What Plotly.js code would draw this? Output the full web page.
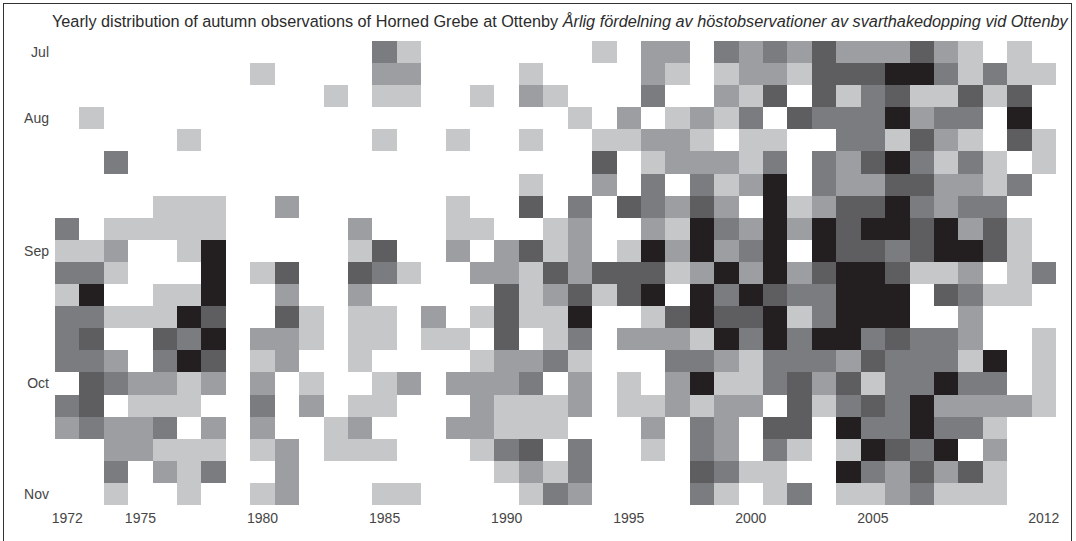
<!DOCTYPE html>
<html><head><meta charset="utf-8">
<script src="https://cdn.plot.ly/plotly-3.0.1.min.js"></script>
<style>
html,body{margin:0;padding:0;background:#fff;overflow:hidden}
#frame{position:absolute;left:3px;top:3px;width:1069px;height:540px;border:1px solid #333;box-sizing:border-box;border-bottom:none}
#chart{position:absolute;left:0;top:0;width:1076px;height:541px}
</style></head><body>
<div id="chart"></div><div id="frame"></div>
<script>
var years = [1972,1973,1974,1975,1976,1977,1978,1979,1980,1981,1982,1983,1984,1985,1986,1987,1988,1989,1990,1991,1992,1993,1994,1995,1996,1997,1998,1999,2000,2001,2002,2003,2004,2005,2006,2007,2008,2009,2010,2011,2012];
var xTicks = [1972,1975,1980,1985,1990,1995,2000,2005,2012];
var periods = [0,1,2,3,4,5,6,7,8,9,10,11,12,13,14,15,16,17,18,19,20];
var monthTicks = [0,3,9,15,20];
var monthLabels = ['Jul','Aug','Sep','Oct','Nov'];
// one string per ten-day period, one digit (abundance class 0-5) per year
var classRows = [
 "00000000000003100000001022032324222421010",
 "00000000100002200001000021012214445531311",
 "00000000000101100102100030021404134114140",
 "01000000000000000000010201213043335233050",
 "00000100000001001001001122101100331421041",
 "00300000000000000000004012221303245313101",
 "00000000000000000001002030312503224422130",
 "00001110020000001004030432420512445323300",
 "30111110000020001100120021532525455452410",
 "11200150000014002024120152523505443455410",
 "33100050140043100221424441252524554112013",
 "15001150020020000041241450535433555043110",
 "33111540041011020141150014544513555002000",
 "34004350221011011040130222153535534332001",
 "33203540120010000122310003321333243331501",
 "04322120201001202223020102511342413353301",
 "34011100302011000211120112122041343522221",
 "23223020200120002211100020320440533533100",
 "00221110120111000134030010320310154350200",
 "00302130020000000012130000431100532424100",
 "00100100120001100001320000310130112311100"
];
var grid = classRows.map(function(r){return r.split('').map(Number);});
var classColors = ['#ffffff','#c6c7c9','#9d9ea1','#7b7c7f','#5e5e60','#231f20'];
var scale = [];
classColors.forEach(function(c,i){scale.push([i/6,c]);scale.push([(i+1)/6,c]);});
var tickFont = {family:'"Liberation Sans",Arial,sans-serif',size:14,color:'#454545'};
Plotly.newPlot('chart',[{
  type:'heatmap',x:years,y:periods,z:grid,zmin:-0.0001,zmax:5.9999,
  colorscale:scale,showscale:false,hoverinfo:'skip'
}],{
  width:1076,height:541,paper_bgcolor:'#fff',plot_bgcolor:'#fff',
  margin:{l:55,r:20,t:40.7,b:36},showlegend:false,
  title:{text:'Yearly distribution of autumn observations of Horned Grebe at Ottenby <i>Årlig fördelning av höstobservationer av svarthakedopping vid Ottenby</i>',
    font:{family:'"Liberation Sans",Arial,sans-serif',size:16.25,color:'#2b2b2b'},x:0.0483,xanchor:'left',y:0.961,yanchor:'middle'},
  xaxis:{range:[1971.5,2012.5],tickvals:xTicks,ticktext:xTicks.map(String),showgrid:false,zeroline:false,showline:false,ticks:'',tickfont:tickFont,tickangle:0,ticklabelstandoff:3},
  yaxis:{range:[20.5,-0.5],tickvals:monthTicks,ticktext:monthLabels,showgrid:false,zeroline:false,showline:false,ticks:'',tickfont:tickFont,ticklabelstandoff:5}
},{displayModeBar:false,staticPlot:true});
</script></body></html>
